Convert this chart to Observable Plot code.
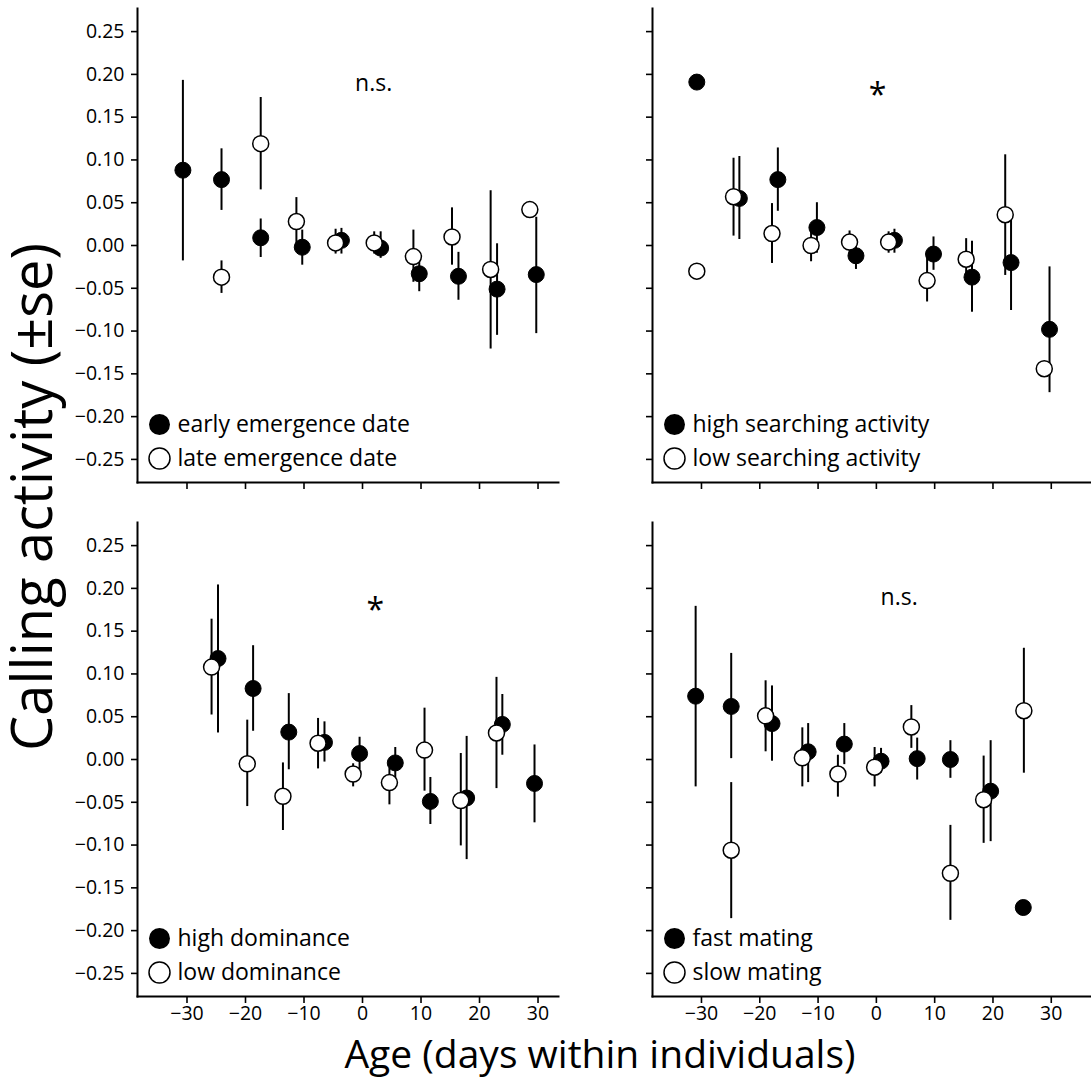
<!DOCTYPE html>
<html>
<head>
<meta charset="utf-8">
<script src="https://cdn.jsdelivr.net/npm/d3@7"></script>
<script src="https://cdn.jsdelivr.net/npm/@observablehq/plot@0.6"></script>
<style>
  body { margin: 0; background: #fff; }
  #chart { position: relative; width: 1091px; height: 1079px; font-family: "Open Sans", sans-serif; color: #000; overflow: hidden; }
  .panel { position: absolute; }
  .ylab { position: absolute; left: 30px; top: 497px; transform: translate(-50%, -50%) rotate(-90deg); font-size: 56px; white-space: nowrap; }
  .xlab { position: absolute; left: 600px; top: 1052px; transform: translate(-50%, -50%); font-size: 39px; white-space: nowrap; }
</style>
</head>
<body>
<div id="chart">
  <div class="ylab">Calling activity (±se)</div>
  <div class="xlab">Age (days within individuals)</div>
</div>
<script>
// [age, mean, lower, upper]
const emergenceEarly = [
  [-30.7, 0.088, -0.018, 0.193], [-24.1, 0.077, 0.041, 0.113], [-17.4, 0.009, -0.014, 0.031],
  [-10.3, -0.002, -0.023, 0.018], [-3.6, 0.006, -0.010, 0.020], [3.1, -0.003, -0.015, 0.016],
  [9.7, -0.033, -0.054, -0.012], [16.4, -0.036, -0.064, -0.008], [23.0, -0.051, -0.105, 0.002],
  [29.7, -0.034, -0.103, 0.033]
];
const emergenceLate = [
  [-24.1, -0.037, -0.056, -0.018], [-17.4, 0.119, 0.065, 0.173], [-11.3, 0.028, 0.000, 0.056],
  [-4.6, 0.003, -0.010, 0.019], [2.0, 0.003, -0.010, 0.016], [8.7, -0.013, -0.043, 0.018],
  [15.3, 0.010, -0.023, 0.044], [21.9, -0.028, -0.121, 0.064], [28.6, 0.042, 0.036, 0.048]
];
const searchingHigh = [
  [-30.8, 0.191, 0.191, 0.191], [-23.5, 0.055, 0.007, 0.104], [-16.9, 0.077, 0.040, 0.114],
  [-10.2, 0.021, -0.009, 0.050], [-3.5, -0.012, -0.028, 0.003], [3.1, 0.006, -0.009, 0.019],
  [9.8, -0.010, -0.029, 0.010], [16.4, -0.037, -0.078, 0.005], [23.1, -0.020, -0.076, 0.036],
  [29.7, -0.098, -0.172, -0.025]
];
const searchingLow = [
  [-30.8, -0.030, -0.030, -0.030], [-24.5, 0.057, 0.011, 0.102], [-17.9, 0.014, -0.021, 0.049],
  [-11.2, 0.000, -0.019, 0.018], [-4.6, 0.004, -0.010, 0.017], [2.1, 0.004, -0.009, 0.016],
  [8.7, -0.041, -0.066, -0.014], [15.4, -0.016, -0.040, 0.008], [22.1, 0.036, -0.035, 0.106],
  [28.8, -0.144, -0.150, -0.138]
];
const dominanceHigh = [
  [-24.7, 0.118, 0.031, 0.204], [-18.7, 0.083, 0.033, 0.133], [-12.6, 0.032, -0.012, 0.077],
  [-6.5, 0.020, -0.003, 0.044], [-0.5, 0.007, -0.012, 0.026], [5.6, -0.004, -0.023, 0.014],
  [11.6, -0.049, -0.076, -0.021], [17.8, -0.045, -0.117, 0.027], [23.9, 0.041, 0.005, 0.076],
  [29.4, -0.028, -0.074, 0.017]
];
const dominanceLow = [
  [-25.8, 0.108, 0.052, 0.164], [-19.7, -0.005, -0.055, 0.046], [-13.6, -0.043, -0.083, -0.004],
  [-7.6, 0.019, -0.011, 0.048], [-1.6, -0.017, -0.032, -0.005], [4.6, -0.027, -0.053, -0.010],
  [10.6, 0.011, -0.037, 0.060], [16.8, -0.048, -0.101, 0.007], [22.9, 0.031, -0.034, 0.096]
];
const matingFast = [
  [-31.0, 0.074, -0.032, 0.179], [-24.9, 0.062, 0.001, 0.124], [-17.9, 0.042, -0.002, 0.086],
  [-11.7, 0.009, -0.027, 0.042], [-5.5, 0.018, -0.006, 0.042], [0.8, -0.002, -0.016, 0.013],
  [7.0, 0.001, -0.024, 0.025], [12.7, 0.000, -0.022, 0.022], [19.6, -0.037, -0.096, 0.022],
  [25.2, -0.173, -0.173, -0.173]
];
const matingSlow = [
  [-24.9, -0.106, -0.186, -0.027], [-19.0, 0.051, 0.009, 0.092], [-12.7, 0.002, -0.032, 0.037],
  [-6.6, -0.017, -0.044, 0.005], [-0.3, -0.009, -0.032, 0.014], [6.0, 0.038, 0.013, 0.063],
  [12.7, -0.133, -0.188, -0.077], [18.4, -0.047, -0.098, 0.004], [25.3, 0.057, -0.016, 0.130]
];

const legendLabels = [
  ["early emergence date", "late emergence date"],
  ["high searching activity", "low searching activity"],
  ["high dominance", "low dominance"],
  ["fast mating", "slow mating"]
];
const sigLabels = ["n.s.", "*", "*", "n.s."];
const sigAge = [1.9, 0.2, 2.2, 3.9];
const sigValue = [0.189, 0.183, 0.182, 0.189];

const yTicks = [-0.25, -0.20, -0.15, -0.10, -0.05, 0.00, 0.05, 0.10, 0.15, 0.20, 0.25];
const xTicks = [-30, -20, -10, 0, 10, 20, 30];

const fmtY = d3.format(".2f");
const fmtX = d3.format("d");
const blank = () => "";

function panel(i, filled, open, opts) {
  const {left, top, width, height, marginLeft, marginRight, marginBottom, xDomain, yLabels, xLabels} = opts;
  const isStar = sigLabels[i] === "*";
  const svg = Plot.plot({
    width, height, marginLeft, marginRight, marginTop: 8, marginBottom,
    x: {domain: xDomain},
    y: {domain: [-0.277, 0.277]},
    style: {fontFamily: "'Open Sans', sans-serif", fontSize: "19.5px", color: "#000", background: "transparent", overflow: "visible"},
    marks: [
      Plot.axisY({ticks: yTicks, tickSize: 6, tickPadding: 7, strokeWidth: 1.6, tickFormat: yLabels ? fmtY : blank, label: null}),
      Plot.axisX({ticks: xTicks, tickSize: 7, tickPadding: 3, strokeWidth: 1.6, tickFormat: xLabels ? fmtX : blank, label: null}),
      Plot.frame({anchor: "left", strokeWidth: 2}),
      Plot.frame({anchor: "bottom", strokeWidth: 2}),
      Plot.ruleX(filled, {x: d => d[0], y1: d => d[2], y2: d => d[3], stroke: "black", strokeWidth: 2}),
      Plot.dot(filled, {x: d => d[0], y: d => d[1], r: 8, fill: "black", stroke: "black", strokeWidth: 1}),
      Plot.ruleX(open, {x: d => d[0], y1: d => d[2], y2: d => d[3], stroke: "black", strokeWidth: 2}),
      Plot.dot(open, {x: d => d[0], y: d => d[1], r: 8, fill: "white", stroke: "black", strokeWidth: 1.5}),
      Plot.text([sigLabels[i]], {x: () => sigAge[i], y: () => sigValue[i], text: d => d,
        fontSize: isStar ? 32 : 23, textAnchor: "middle", lineAnchor: "middle", dy: isStar ? 7 : 0}),
      Plot.dot([0], {frameAnchor: "bottom-left", dx: 22, dy: -58, r: 10.5, fill: "black"}),
      Plot.dot([0], {frameAnchor: "bottom-left", dx: 22, dy: -24, r: 10.5, fill: "white", stroke: "black", strokeWidth: 1.5}),
      Plot.text([legendLabels[i][0]], {frameAnchor: "bottom-left", dx: 40, dy: -58, text: d => d, fontSize: 23, textAnchor: "start", lineAnchor: "middle"}),
      Plot.text([legendLabels[i][1]], {frameAnchor: "bottom-left", dx: 40, dy: -24, text: d => d, fontSize: 23, textAnchor: "start", lineAnchor: "middle"})
    ]
  });
  const div = document.createElement("div");
  div.className = "panel";
  div.style.left = left + "px";
  div.style.top = top + "px";
  div.appendChild(svg);
  document.getElementById("chart").appendChild(div);
}

const leftOpts = {left: 0, width: 560, marginLeft: 137, marginRight: 2, xDomain: [-38.46, 33.5]};
const rightOpts = {left: 560, width: 531, marginLeft: 92, marginRight: 0, xDomain: [-38.4, 36.9]};
const topOpts = {top: 0, height: 502, marginBottom: 20, xLabels: false};
const botOpts = {top: 514, height: 534, marginBottom: 52, xLabels: true};

panel(0, emergenceEarly, emergenceLate, {...leftOpts, ...topOpts, yLabels: true});
panel(1, searchingHigh, searchingLow, {...rightOpts, ...topOpts, yLabels: false});
panel(2, dominanceHigh, dominanceLow, {...leftOpts, ...botOpts, yLabels: true});
panel(3, matingFast, matingSlow, {...rightOpts, ...botOpts, yLabels: false});
</script>
</body>
</html>
